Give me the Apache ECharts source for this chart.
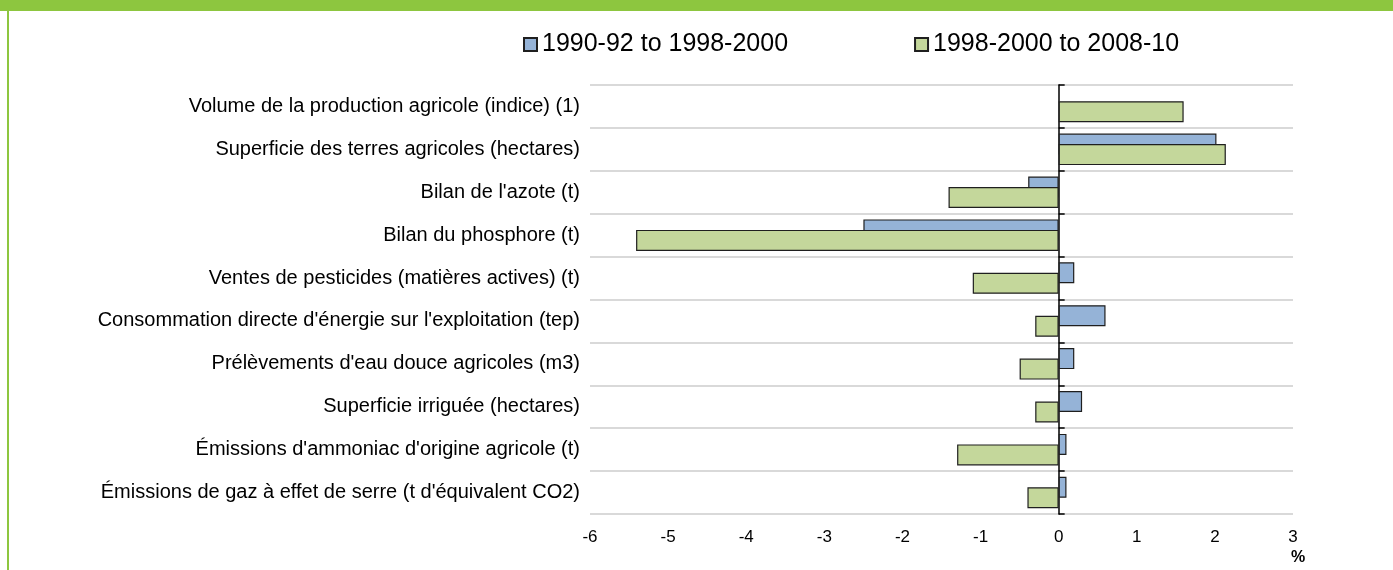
<!DOCTYPE html>
<html>
<head>
<meta charset="utf-8">
<title>Indicateurs agro-environnementaux</title>
<script src="https://cdn.jsdelivr.net/npm/echarts@6/dist/echarts.min.js"></script>
<style>
  html, body {
    margin: 0;
    padding: 0;
    background: #fff;
  }
  #chart {
    width: 1393px;
    height: 570px;
  }
</style>
</head>
<body>
<div id="chart"></div>
<script>
// libellés des indicateurs, de haut en bas
const categories = [
  'Volume de la production agricole (indice) (1)',
  'Superficie des terres agricoles (hectares)',
  "Bilan de l'azote (t)",
  'Bilan du phosphore (t)',
  'Ventes de pesticides (matières actives) (t)',
  "Consommation directe d'énergie sur l'exploitation (tep)",
  "Prélèvements d'eau douce agricoles (m3)",
  'Superficie irriguée (hectares)',
  "Émissions d'ammoniac d'origine agricole (t)",
  "Émissions de gaz à effet de serre (t d'équivalent CO2)"
]
const seriesNames = ['1990-92 to 1998-2000', '1998-2000 to 2008-10']
// variation annuelle moyenne (%)
const period1 = ['-', 2.02, -0.39, -2.5, 0.2, 0.6, 0.2, 0.3, 0.1, 0.1]
const period2 = [1.6, 2.14, -1.41, -5.41, -1.1, -0.3, -0.5, -0.3, -1.3, -0.4]
const xTicks = { min: -6, max: 3, step: 1 }

const FONT = '"Liberation Sans", Arial, sans-serif'
const GREEN_BAR = '#8dc63f'

const chart = echarts.init(document.getElementById('chart'))

const option = {
  animation: false,
  textStyle: { fontFamily: FONT },
  grid: {
    left: 590,
    right: 100,
    top: 85,
    bottom: 56
  },
  legend: {
    data: seriesNames,
    left: 518,
    top: 27,
    icon: 'rect',
    itemWidth: 13,
    itemHeight: 13,
    itemGap: 126,
    textStyle: {
      fontFamily: FONT,
      fontSize: 25,
      color: '#000'
    }
  },
  xAxis: {
    type: 'value',
    min: xTicks.min,
    max: xTicks.max,
    interval: xTicks.step,
    axisLine: { show: false },
    axisTick: { show: false },
    splitLine: { show: false },
    axisLabel: {
      margin: 15,
      fontSize: 17,
      color: '#000',
      fontFamily: FONT
    }
  },
  yAxis: [
    {
      // libellés à gauche + lignes de séparation grises
      type: 'category',
      data: categories,
      inverse: true,
      position: 'left',
      axisLine: { show: false, onZero: false },
      axisTick: { show: false },
      axisLabel: {
        margin: 10,
        fontSize: 20,
        color: '#000',
        fontFamily: FONT
      },
      splitLine: {
        show: true,
        lineStyle: { color: '#d9d9d9', width: 2 }
      }
    },
    {
      // axe vertical noir sur le zéro
      type: 'category',
      data: categories,
      inverse: true,
      position: 'left',
      axisLine: {
        show: true,
        onZero: true,
        lineStyle: { color: '#000', width: 1.5 }
      },
      axisTick: {
        show: true,
        inside: true,
        length: 6,
        lineStyle: { color: '#000', width: 1.5 }
      },
      axisLabel: { show: false },
      splitLine: { show: false }
    }
  ],
  series: [
    {
      name: seriesNames[0],
      type: 'bar',
      yAxisIndex: 0,
      barWidth: 21,
      barGap: '-50%',
      itemStyle: {
        color: '#95b3d7',
        borderColor: '#1f1f1f',
        borderWidth: 1.2
      },
      data: period1
    },
    {
      name: seriesNames[1],
      type: 'bar',
      yAxisIndex: 0,
      barWidth: 21,
      barGap: '-50%',
      itemStyle: {
        color: '#c4d79b',
        borderColor: '#1f1f1f',
        borderWidth: 1.2
      },
      data: period2
    }
  ],
  graphic: [
    {
      type: 'rect',
      shape: { x: 0, y: 0, width: 1393, height: 11 },
      style: { fill: GREEN_BAR },
      silent: true
    },
    {
      type: 'rect',
      shape: { x: 7, y: 11, width: 2, height: 559 },
      style: { fill: GREEN_BAR },
      silent: true
    },
    {
      type: 'text',
      left: 1291,
      top: 550,
      style: {
        text: '%',
        font: 'bold 16px ' + FONT,
        fill: '#000'
      }
    }
  ]
}

chart.setOption(option)
</script>
</body>
</html>
